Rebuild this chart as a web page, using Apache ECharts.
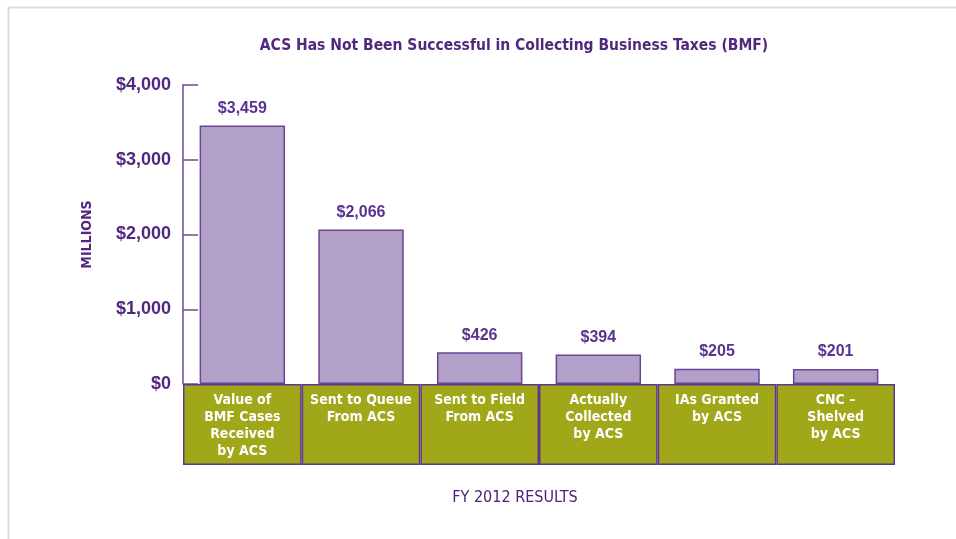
<!DOCTYPE html>
<html>
<head>
<meta charset="utf-8">
<script src="https://cdn.jsdelivr.net/npm/echarts@6/dist/echarts.min.js"></script>
<style>
html,body{margin:0;padding:0;background:#fff;}
#chart{width:956px;height:539px;}
</style>
</head>
<body>
<div id="chart"></div>
<script>
const categories = [
  'Value of\nBMF Cases\nReceived\nby ACS',
  'Sent to Queue\nFrom ACS',
  'Sent to Field\nFrom ACS',
  'Actually\nCollected\nby ACS',
  'IAs Granted\nby ACS',
  'CNC \u2013\nShelved\nby ACS'
];
const values = [3459, 2066, 426, 394, 205, 201];
const yTicks = [0, 1000, 2000, 3000, 4000];
const boxFill = categories.map(() => 1);

const purple = '#52287F';
const axisPurple = '#6E4A9E';
const narrow = '"DejaVu Sans Condensed","Liberation Sans Narrow",Arial,sans-serif';
const sans = '"Liberation Sans",Arial,sans-serif';

const chart = echarts.init(document.getElementById('chart'));
chart.setOption({
  animation: false,
  backgroundColor: '#fff',
  graphic: [{
    type: 'rect', silent: true, z: -1,
    shape: {x: 8.5, y: 7.5, width: 1000, height: 600},
    style: {fill: 'none', stroke: '#DCD8EA', lineWidth: 2}
  }],
  title: [{
    text: 'ACS Has Not Been Successful in Collecting Business Taxes (BMF)',
    left: 509, top: 33, textAlign: 'center',
    textStyle: {fontFamily: narrow, fontWeight: 'bold', fontSize: 15.5, color: purple}
  }, {
    text: 'FY 2012 RESULTS',
    left: 510, top: 485, textAlign: 'center',
    textStyle: {fontFamily: narrow, fontWeight: 'normal', fontSize: 16, color: '#4A2278'}
  }],
  grid: [
    {left: 183, right: 61, top: 85, bottom: 155},
    {left: 183, right: 61, top: 384, height: 81}
  ],
  xAxis: [{
    gridIndex: 0, type: 'category', data: categories,
    axisLine: {show: false}, axisTick: {show: false}, axisLabel: {show: false}
  }, {
    gridIndex: 1, type: 'category', data: categories,
    axisLine: {show: false}, axisTick: {show: false}, axisLabel: {show: false}
  }],
  yAxis: [{
    gridIndex: 0, type: 'value', min: 0, max: 4000, interval: 1000,
    name: 'MILLIONS', nameLocation: 'middle', nameRotate: 90, nameGap: 89,
    nameTextStyle: {fontFamily: narrow, fontWeight: 'bold', fontSize: 14, color: purple},
    axisLine: {show: true, lineStyle: {color: axisPurple, width: 1.5}},
    axisTick: {show: true, inside: true, length: 15, lineStyle: {color: axisPurple, width: 1.5}},
    splitLine: {show: false},
    axisLabel: {
      margin: 12, fontFamily: sans, fontWeight: 'bold', fontSize: 18, color: purple,
      formatter: v => yTicks.includes(v) ? '$' + v.toLocaleString('en-US') : ''
    }
  }, {
    gridIndex: 1, type: 'value', min: 0, max: 1, show: false
  }],
  series: [{
    type: 'bar', xAxisIndex: 0, yAxisIndex: 0, data: values,
    barWidth: '72%',
    itemStyle: {color: '#B1A1C9', borderColor: '#6A4396', borderWidth: 1.5},
    label: {
      show: true, position: 'top', distance: 9,
      fontFamily: sans, fontSize: 16, fontWeight: 'bold', color: '#5A3290',
      formatter: p => '$' + p.value.toLocaleString('en-US')
    }
  }, {
    type: 'bar', xAxisIndex: 1, yAxisIndex: 1, data: boxFill,
    barWidth: '100%', barGap: 0, barCategoryGap: 0,
    itemStyle: {color: '#A0A718', borderColor: '#5E3890', borderWidth: 1.5},
    label: {
      show: true, position: 'insideTop', distance: 8,
      fontFamily: narrow, fontWeight: 'bold', fontSize: 14, lineHeight: 17, color: '#fff',
      formatter: p => categories[p.dataIndex]
    }
  }]
});
</script>
</body>
</html>
